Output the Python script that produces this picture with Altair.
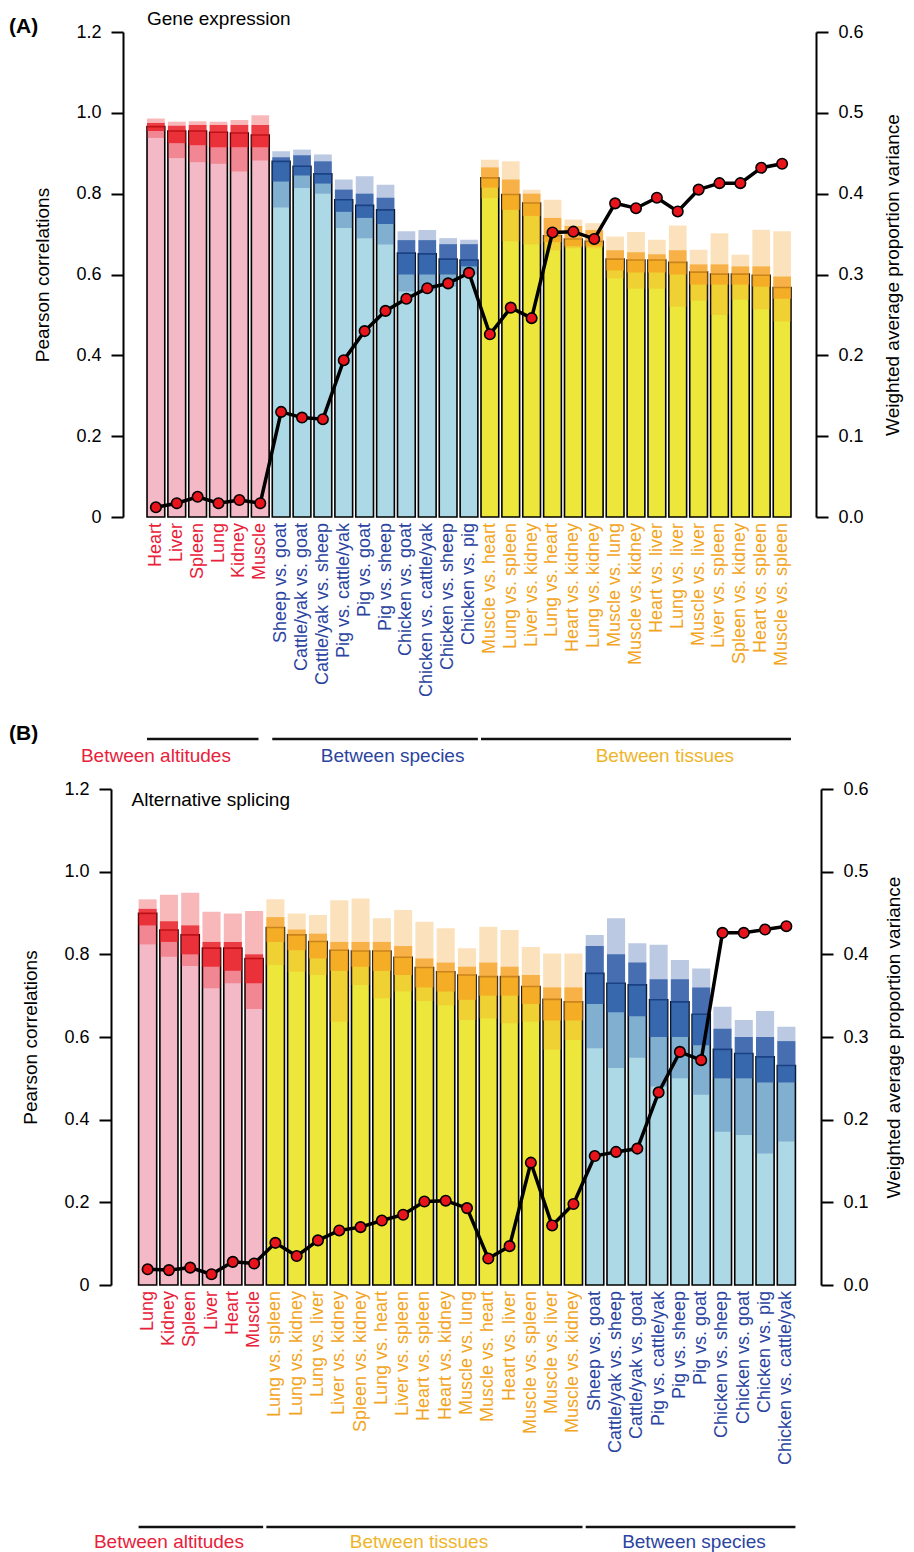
import altair as alt
import pandas as pd

FONT = "Liberation Sans"

# ---------------- Panel A : Gene expression ----------------
A_cats = ["Heart", "Liver", "Spleen", "Lung", "Kidney", "Muscle",
          "Sheep vs. goat", "Cattle/yak vs. goat", "Cattle/yak vs. sheep", "Pig vs. cattle/yak",
          "Pig vs. goat", "Pig vs. sheep", "Chicken vs. goat", "Chicken vs. cattle/yak",
          "Chicken vs. sheep", "Chicken vs. pig",
          "Muscle vs. heart", "Lung vs. spleen", "Liver vs. kidney", "Lung vs. heart",
          "Heart vs. kidney", "Lung vs. kidney", "Muscle vs. lung", "Muscle vs. kidney",
          "Heart vs. liver", "Lung vs. liver", "Muscle vs. liver", "Liver vs. spleen",
          "Spleen vs. kidney", "Heart vs. spleen", "Muscle vs. spleen"]
A_groups = ["altitudes"] * 6 + ["species"] * 10 + ["tissues"] * 15
A_corr = [0.966, 0.955, 0.955, 0.952, 0.950, 0.945,
          0.880, 0.868, 0.849, 0.785, 0.771, 0.760, 0.653, 0.651, 0.638, 0.636,
          0.839, 0.798, 0.777, 0.696, 0.688, 0.682, 0.638, 0.636, 0.636, 0.630,
          0.606, 0.601, 0.601, 0.598, 0.568]
A_var = [0.012, 0.017, 0.025, 0.017, 0.021, 0.017,
         0.130, 0.123, 0.121, 0.194, 0.230, 0.255, 0.270, 0.283, 0.289, 0.302,
         0.226, 0.259, 0.246, 0.352, 0.353, 0.344, 0.388, 0.382, 0.395, 0.378,
         0.405, 0.413, 0.413, 0.432, 0.437]
A_lo = [0.938, 0.888, 0.878, 0.874, 0.855, 0.882,
        0.766, 0.814, 0.800, 0.715, 0.690, 0.674, 0.558, 0.560, 0.570, 0.600,
        0.789, 0.682, 0.674, 0.660, 0.665, 0.665, 0.590, 0.565, 0.565, 0.520,
        0.535, 0.500, 0.538, 0.514, 0.484]
A_q1 = [0.955, 0.925, 0.920, 0.915, 0.915, 0.915,
        0.830, 0.845, 0.825, 0.755, 0.740, 0.725, 0.600, 0.600, 0.600, 0.620,
        0.815, 0.760, 0.745, 0.680, 0.670, 0.670, 0.610, 0.605, 0.605, 0.600,
        0.575, 0.575, 0.575, 0.570, 0.540]
A_q3 = [0.975, 0.968, 0.970, 0.970, 0.970, 0.970,
        0.890, 0.895, 0.880, 0.810, 0.800, 0.790, 0.685, 0.685, 0.675, 0.675,
        0.865, 0.835, 0.800, 0.740, 0.720, 0.710, 0.660, 0.655, 0.650, 0.660,
        0.625, 0.625, 0.620, 0.620, 0.595]
A_hi = [0.986, 0.978, 0.979, 0.978, 0.982, 0.994,
        0.905, 0.909, 0.897, 0.835, 0.843, 0.822, 0.707, 0.710, 0.690, 0.686,
        0.884, 0.880, 0.810, 0.785, 0.736, 0.727, 0.694, 0.705, 0.686, 0.721,
        0.661, 0.702, 0.649, 0.711, 0.707]

# ---------------- Panel B : Alternative splicing ----------------
B_cats = ["Lung", "Kidney", "Spleen", "Liver", "Heart", "Muscle",
          "Lung vs. spleen", "Lung vs. kidney", "Lung vs. liver", "Liver vs. kidney",
          "Spleen vs. kidney", "Lung vs. heart", "Liver vs. spleen", "Heart vs. spleen",
          "Heart vs. kidney", "Muscle vs. lung", "Muscle vs. heart", "Heart vs. liver",
          "Muscle vs. spleen", "Muscle vs. liver", "Muscle vs. kidney",
          "Sheep vs. goat", "Cattle/yak vs. sheep", "Cattle/yak vs. goat", "Pig vs. cattle/yak",
          "Pig vs. sheep", "Pig vs. goat", "Chicken vs. sheep", "Chicken vs. goat",
          "Chicken vs. pig", "Chicken vs. cattle/yak"]
B_groups = ["altitudes"] * 6 + ["tissues"] * 15 + ["species"] * 10
B_corr = [0.899, 0.859, 0.847, 0.815, 0.815, 0.790,
          0.865, 0.847, 0.831, 0.810, 0.808, 0.808, 0.793, 0.768, 0.758, 0.750,
          0.746, 0.746, 0.722, 0.691, 0.685,
          0.754, 0.730, 0.726, 0.690, 0.685, 0.655, 0.570, 0.560, 0.552, 0.531]
B_var = [0.019, 0.018, 0.021, 0.013, 0.028, 0.026,
         0.051, 0.035, 0.054, 0.066, 0.070, 0.078, 0.085, 0.101, 0.102, 0.093,
         0.032, 0.047, 0.148, 0.072, 0.098,
         0.156, 0.161, 0.165, 0.233, 0.282, 0.272, 0.426, 0.426, 0.430, 0.434]
B_lo = [0.824, 0.794, 0.772, 0.718, 0.730, 0.668,
        0.774, 0.758, 0.750, 0.637, 0.726, 0.694, 0.710, 0.687, 0.677, 0.641,
        0.645, 0.633, 0.637, 0.569, 0.593,
        0.573, 0.525, 0.550, 0.480, 0.500, 0.460, 0.371, 0.363, 0.318, 0.347]
B_q1 = [0.870, 0.830, 0.800, 0.770, 0.760, 0.730,
        0.830, 0.810, 0.790, 0.760, 0.770, 0.760, 0.750, 0.720, 0.710, 0.690,
        0.700, 0.700, 0.680, 0.640, 0.640,
        0.680, 0.660, 0.650, 0.600, 0.600, 0.580, 0.500, 0.500, 0.490, 0.490]
B_q3 = [0.910, 0.880, 0.870, 0.830, 0.830, 0.800,
        0.890, 0.860, 0.850, 0.830, 0.830, 0.830, 0.820, 0.790, 0.780, 0.770,
        0.780, 0.770, 0.750, 0.720, 0.720,
        0.820, 0.800, 0.780, 0.740, 0.740, 0.720, 0.620, 0.600, 0.600, 0.590]
B_hi = [0.933, 0.944, 0.949, 0.903, 0.899, 0.905,
        0.933, 0.899, 0.895, 0.931, 0.935, 0.887, 0.907, 0.879, 0.863, 0.815,
        0.867, 0.859, 0.818, 0.802, 0.802,
        0.847, 0.887, 0.827, 0.823, 0.786, 0.766, 0.673, 0.641, 0.663, 0.625]

GROUPS = ["altitudes", "species", "tissues"]
GROUP_LABELS = {"altitudes": "Between altitudes", "species": "Between species",
                "tissues": "Between tissues"}
BAR_COLORS = ["#F4B9C6", "#ADD8E6", "#EDE73B"]
DOT_COLORS = ["#E8141C", "#1F4FA0", "#F5A020"]
TXT_COLORS = ["#E8213A", "#2B44A0", "#F2A51F"]
GRP_LABEL_COLORS = {"altitudes": "#E8213A", "species": "#2B44A0", "tissues": "#EFB52A"}


def panel(cats, groups, corr, var, lo, q1, q3, hi, W, H, pad_outer, left_off, right_off,
          right_title_pad, subtitle, sub_anchor, sub_dx, sub_y, rules, glabels, rule_y,
          glabel_y, extra_texts):
    df = pd.DataFrame({"cat": cats, "grp": groups, "corr": corr, "var": var,
                       "lo": lo, "q1": q1, "q3": q3, "hi": hi})
    xscale = alt.Scale(domain=cats, paddingInner=0.15, paddingOuter=pad_outer)

    def X(field="cat", **kw):
        return alt.X(f"{field}:N", scale=xscale, axis=None, **kw)

    yleft = alt.Scale(domain=[0, 1.2], nice=False, zero=True)
    yright = alt.Scale(domain=[0, 0.6], nice=False, zero=True)
    common_axis = dict(tickSize=12, tickWidth=2, domainWidth=2, domainColor="black",
                       tickColor="black", labelColor="black", labelFont=FONT, labelFontSize=18,
                       labelPadding=10, titleFont=FONT, titleFontSize=19, titleFontWeight="normal",
                       titleColor="black", grid=False)
    left_axis = alt.Axis(values=[0, 0.2, 0.4, 0.6, 0.8, 1.0, 1.2],
                         labelExpr="datum.value == 0 ? '0' : format(datum.value, '.1f')",
                         title="Pearson correlations", offset=left_off, titlePadding=23,
                         **common_axis)
    right_axis = alt.Axis(values=[0, 0.1, 0.2, 0.3, 0.4, 0.5, 0.6], format=".1f", orient="right",
                          title="Weighted average proportion variance", titleAngle=270,
                          offset=right_off, titlePadding=right_title_pad, **common_axis)

    base = alt.Chart(df)
    bars = base.mark_bar(stroke="black", strokeWidth=1.6).encode(
        x=X(), y=alt.Y("corr:Q", scale=yleft, axis=left_axis),
        fill=alt.Fill("grp:N", scale=alt.Scale(domain=GROUPS, range=BAR_COLORS), legend=None))
    cloud_outer = base.mark_bar(opacity=0.3).encode(
        x=X(), y=alt.Y("lo:Q", scale=yleft, axis=None), y2="hi:Q",
        color=alt.Color("grp:N", scale=alt.Scale(domain=GROUPS, range=DOT_COLORS), legend=None))
    cloud_core = base.mark_bar(opacity=0.75).encode(
        x=X(), y=alt.Y("q1:Q", scale=yleft, axis=None), y2="q3:Q",
        color=alt.Color("grp:N", scale=alt.Scale(domain=GROUPS, range=DOT_COLORS), legend=None))
    line = base.mark_line(color="black", strokeWidth=3.5).encode(
        x=X(), y=alt.Y("var:Q", scale=yright, axis=right_axis))
    pts = base.mark_circle(size=110, color="#E8141C", opacity=1, stroke="black",
                           strokeWidth=1.6).encode(
        x=X(), y=alt.Y("var:Q", scale=yright, axis=None))
    xlabels = base.mark_text(angle=270, align="right", baseline="middle", font=FONT,
                             fontSize=18).encode(
        x=X(), y=alt.value(H + 6), text="cat:N",
        color=alt.Color("grp:N", scale=alt.Scale(domain=GROUPS, range=TXT_COLORS), legend=None))

    layers = [bars, cloud_outer, cloud_core, line, pts, xlabels]

    sub_df = pd.DataFrame({"cat": [sub_anchor], "t": [subtitle]})
    layers.append(alt.Chart(sub_df).mark_text(align="left", baseline="middle", font=FONT,
                                              fontSize=19, color="black", dx=sub_dx).encode(
        x=X(bandPosition=0), y=alt.value(sub_y), text="t:N"))

    for g, first, last, endpos in rules:
        rdf = pd.DataFrame({"a": [first], "b": [last]})
        layers.append(alt.Chart(rdf).mark_rule(color="#111111", strokeWidth=2.6).encode(
            x=alt.X("a:N", scale=xscale, axis=None, bandPosition=0),
            x2=alt.X2("b:N", bandPosition=endpos), y=alt.value(rule_y)))
    for g, anchor, bpos in glabels:
        gdf = pd.DataFrame({"a": [anchor], "t": [GROUP_LABELS[g]]})
        layers.append(alt.Chart(gdf).mark_text(align="center", baseline="middle", font=FONT,
                                               fontSize=19, color=GRP_LABEL_COLORS[g]).encode(
            x=alt.X("a:N", scale=xscale, axis=None, bandPosition=bpos),
            y=alt.value(glabel_y), text="t:N"))
    for txt, yv in extra_texts:
        tdf = pd.DataFrame({"t": [txt]})
        layers.append(alt.Chart(tdf).mark_text(align="left", baseline="middle", font=FONT,
                                               fontSize=21, fontWeight="bold",
                                               color="black").encode(
            x=alt.value(-128), y=alt.value(yv), text="t:N"))

    return alt.layer(*layers).resolve_scale(
        y="independent", color="independent", fill="independent"
    ).properties(width=W, height=H)


HA = 485
HB = 496
panelA = panel(A_cats, A_groups, A_corr, A_var, A_lo, A_q1, A_q3, A_hi,
               W=664, H=HA, pad_outer=0.48, left_off=14, right_off=15, right_title_pad=39,
               subtitle="Gene expression", sub_anchor="Heart", sub_dx=0, sub_y=-13,
               rules=[("altitudes", "Heart", "Muscle", 0.4),
                      ("species", "Sheep vs. goat", "Chicken vs. pig", 1),
                      ("tissues", "Muscle vs. heart", "Muscle vs. spleen", 1)],
               glabels=[("altitudes", "Heart", 0.5), ("species", "Pig vs. sheep", 0.9),
                        ("tissues", "Heart vs. liver", 0.95)],
               rule_y=HA + 222, glabel_y=HA + 239,
               extra_texts=[("(A)", -5), ("(B)", HA + 217)])

panelB = panel(B_cats, B_groups, B_corr, B_var, B_lo, B_q1, B_q3, B_hi,
               W=660, H=HB, pad_outer=0.075, left_off=26, right_off=24, right_title_pad=35,
               subtitle="Alternative splicing", sub_anchor="Lung", sub_dx=-7, sub_y=11,
               rules=[("altitudes", "Lung", "Muscle", 1),
                      ("tissues", "Lung vs. spleen", "Muscle vs. kidney", 1),
                      ("species", "Sheep vs. goat", "Chicken vs. cattle/yak", 1)],
               glabels=[("altitudes", "Kidney", 0.5), ("tissues", "Heart vs. spleen", 0.2),
                        ("species", "Pig vs. goat", 0.1)],
               rule_y=HB + 242, glabel_y=HB + 257,
               extra_texts=[])

chart = alt.vconcat(panelA, panelB, spacing=14).properties(
    padding={"left": 1, "top": 2, "right": 0, "bottom": 0}
).configure_view(stroke=None)

chart.save("out.html", embed_options={"renderer": "svg", "actions": False})
